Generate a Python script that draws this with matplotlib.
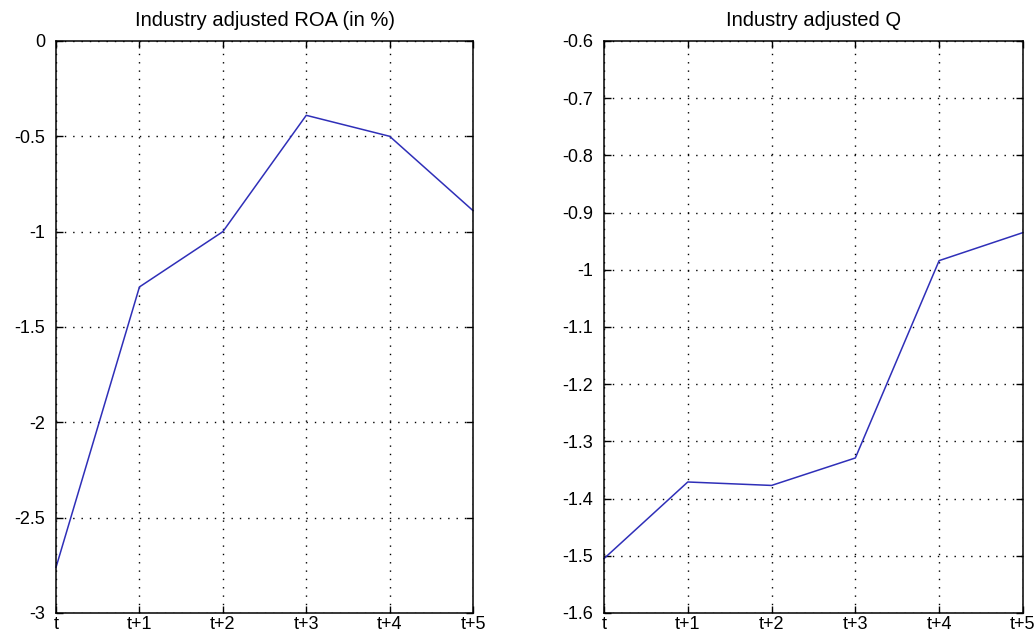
import numpy as np
import matplotlib
matplotlib.use("Agg")
from matplotlib import pyplot as plt

periods = ["t", "t+1", "t+2", "t+3", "t+4", "t+5"]
roa = [-2.76, -1.29, -1.0, -0.39, -0.5, -0.89]
q = [-1.505, -1.371, -1.377, -1.329, -0.984, -0.935]

roa_ticks = [-3, -2.5, -2, -1.5, -1, -0.5, 0]
q_ticks = [-1.6, -1.5, -1.4, -1.3, -1.2, -1.1, -1.0, -0.9, -0.8, -0.7, -0.6]

plt.rcParams['font.family'] = ['Liberation Sans', 'DejaVu Sans']

fig = plt.figure(figsize=(10.34, 6.38), dpi=100)
ax1 = fig.add_axes([0.0542, 0.0392, 0.4033, 0.8966])
ax2 = fig.add_axes([0.5841, 0.0392, 0.4052, 0.8966])


def style(ax, ticks, title):
    x = np.arange(len(periods))
    ax.set_xlim(0, len(periods) - 1)
    ax.set_ylim(ticks[0], ticks[-1])
    ax.set_xticks(x)
    ax.set_xticklabels(periods)
    ax.set_yticks(ticks)
    ax.set_yticklabels(["%g" % v for v in ticks])
    ax.grid(True, color="black", linestyle=(0, (1, 5)), linewidth=1.0)
    ax.tick_params(direction="in", length=5, width=1, top=True, right=True,
                   labelsize=13, colors="black")
    ax.tick_params(axis="x", pad=2)
    ax.tick_params(axis="y", pad=8)
    for sp in ax.spines.values():
        sp.set_linewidth(1.1)
    ax.set_title(title, fontsize=14.5, pad=11)


style(ax1, roa_ticks, "Industry adjusted ROA (in %)")
ax1.plot(np.arange(len(periods)), roa, color="#2f2fb8", linewidth=1.1, clip_on=False)

style(ax2, q_ticks, "Industry adjusted Q")
ax2.plot(np.arange(len(periods)), q, color="#2f2fb8", linewidth=1.1, clip_on=False)

fig.savefig("out.png", dpi=100)
